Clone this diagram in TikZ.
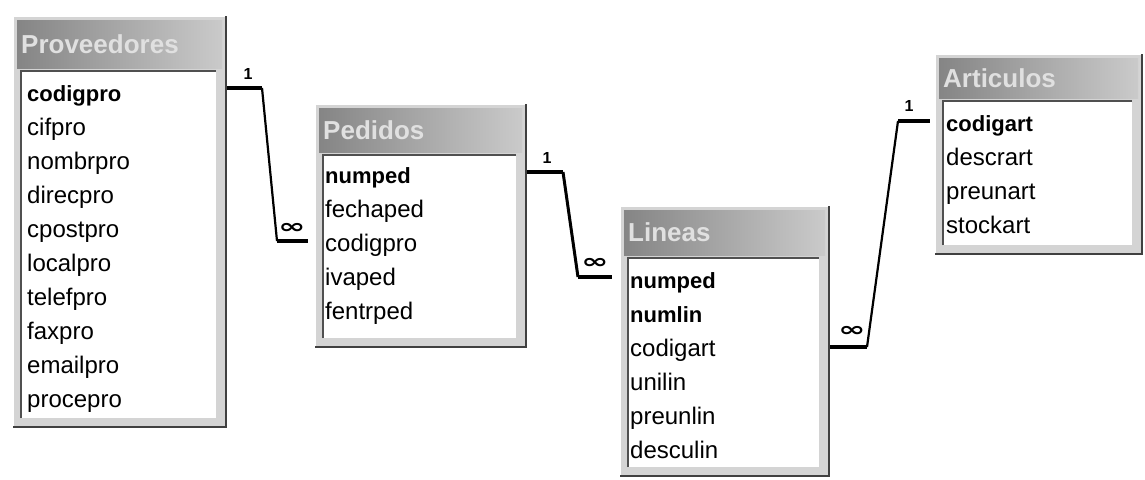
\documentclass[tikz,border=0pt]{standalone}
\usepackage{fontspec}
\usepackage{graphicx}
\setmainfont{Liberation Sans}
\newfontfamily\symfont{DejaVu Sans}
\definecolor{panel}{HTML}{D4D4D4}
\definecolor{darkedge}{HTML}{404040}
\definecolor{sunkline}{HTML}{505050}
\definecolor{tleft}{HTML}{858585}
\definecolor{tright}{HTML}{CACACA}
\definecolor{ttext}{HTML}{E0E0E0}
\tikzset{
  hilite/.style={draw=white,line width=1pt},
  shadowline/.style={draw=darkedge,line width=2.5pt},
  sunk/.style={draw=sunkline,line width=2pt},
  titletext/.style={font=\fontsize{26}{30}\selectfont\bfseries,text=ttext,inner sep=0pt,anchor=base west},
  field/.style={font=\fontsize{24}{28}\selectfont,inner sep=0pt,anchor=base west},
  keyfield/.style={font=\fontsize{22}{28}\selectfont\bfseries,inner sep=0pt,anchor=base west},
  stub/.style={draw=black,line width=3.5pt},
  rel/.style={draw=black,line width=2.2pt},
  onelabel/.style={font=\bfseries\fontsize{16}{18}\selectfont,inner sep=0pt},
  manylabel/.style={font=\symfont\bfseries,inner sep=0pt},
}
\newcommand\manysign{\scalebox{1.3}[0.8]{\fontsize{25}{25}\selectfont ∞}}
\newcommand\dbtab[7]{%
  \fill[panel] (#2,#3) rectangle (#4,#5);
  \draw[hilite] (#2+0.5,#5) -- (#2+0.5,#3+0.5) -- (#4,#3+0.5);
  \draw[shadowline] (#2,#5-1.25) -- (#4-1.25,#5-1.25) -- (#4-1.25,#3);
  \shade[left color=tleft,right color=tright] (#2+4,#3+4) rectangle (#4-5,#6);
  \fill[white] (#2+8,#6+3) rectangle (#4-11,#5-10);
  \draw[sunk] (#2+8,#5-10) -- (#2+8,#6+3) -- (#4-11,#6+3);
  \node[minimum width={(#4-#2)*1pt},minimum height={(#5-#3)*1pt},inner sep=0pt,draw=none] (#1) at ({(#2+#4)/2},{(#3+#5)/2}) {};
  \node[titletext] (#1-title) at (#2+8,{(#3+4+#6)/2+9}) {#7};
}
\begin{document}
\begin{tikzpicture}[x=1pt,y=-1pt]
\fill[white] (0,0) rectangle (1145,479);
\useasboundingbox (0,0) rectangle (1145,479);

% Proveedores
\dbtab{prov}{13}{16}{227}{428}{68}{Proveedores}
\node[keyfield] (prov-f1) at (27,101) {codigpro};
\node[field] (prov-f2) at (27,135) {cifpro};
\node[field] (prov-f3) at (27,169) {nombrpro};
\node[field] (prov-f4) at (27,203) {direcpro};
\node[field] (prov-f5) at (27,237) {cpostpro};
\node[field] (prov-f6) at (27,271) {localpro};
\node[field] (prov-f7) at (27,305) {telefpro};
\node[field] (prov-f8) at (27,339) {faxpro};
\node[field] (prov-f9) at (27,373) {emailpro};
\node[field] (prov-f10) at (27,407) {procepro};

% Pedidos
\dbtab{ped}{315}{104}{527}{348}{152}{Pedidos}
\node[keyfield] (ped-f1) at (325,183) {numped};
\node[field] (ped-f2) at (325,217) {fechaped};
\node[field] (ped-f3) at (325,251) {codigpro};
\node[field] (ped-f4) at (325,285) {ivaped};
\node[field] (ped-f5) at (325,319) {fentrped};

% Lineas
\dbtab{lin}{620}{206}{830}{477}{255}{Lineas}
\node[keyfield] (lin-f1) at (630,288) {numped};
\node[keyfield] (lin-f2) at (630,322) {numlin};
\node[field] (lin-f3) at (630,356) {codigart};
\node[field] (lin-f4) at (630,390) {unilin};
\node[field] (lin-f5) at (630,424) {preunlin};
\node[field] (lin-f6) at (630,458) {desculin};

% Articulos
\dbtab{art}{935}{54}{1143}{255}{98}{Articulos}
\node[keyfield] (art-f1) at (946,131) {codigart};
\node[field] (art-f2) at (946,165) {descrart};
\node[field] (art-f3) at (946,199) {preunart};
\node[field] (art-f4) at (946,233) {stockart};

% Relationship Proveedores - Pedidos
\coordinate (c1a) at (262,88);
\coordinate (c1b) at (277,241);
\draw[stub] (prov.east |- c1a) -- (c1a);
\draw[rel] (c1a) -- (c1b);
\draw[stub,shorten >=7pt] (c1b) -- (c1b -| ped.west);
\node[onelabel] (l1a) at (248,74) {1};
\node[manylabel] (l1b) at (292,228) {\manysign};

% Relationship Pedidos - Lineas
\coordinate (c2a) at (563,172);
\coordinate (c2b) at (578,277);
\draw[stub] (ped.east |- c2a) -- (c2a);
\draw[rel,line width=3pt] (c2a) -- (c2b);
\draw[stub,shorten >=8pt] (c2b) -- (c2b -| lin.west);
\node[onelabel] (l2a) at (547,158) {1};
\node[manylabel] (l2b) at (595,263) {\manysign};

% Relationship Lineas - Articulos
\coordinate (c3a) at (867,347);
\coordinate (c3b) at (898,121);
\draw[stub] (lin.east |- c3a) -- (c3a);
\draw[rel] (c3a) -- (c3b);
\draw[stub,shorten >=5pt] (c3b) -- (c3b -| art.west);
\node[onelabel] (l3a) at (909,106) {1};
\node[manylabel] (l3b) at (852,331) {\manysign};
\end{tikzpicture}
\end{document}
